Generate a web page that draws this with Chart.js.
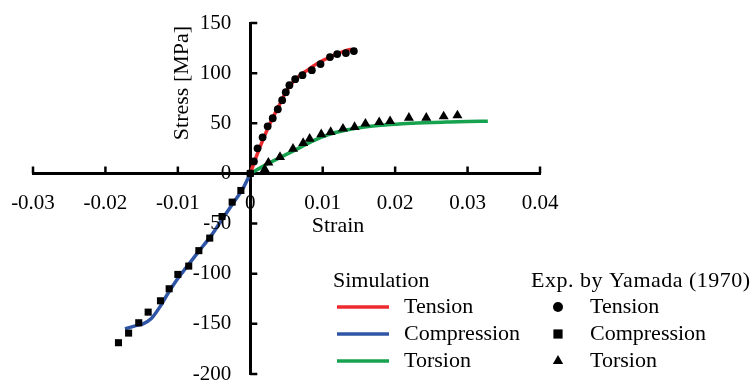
<!DOCTYPE html>
<html><head><meta charset="utf-8">
<script src="https://cdn.jsdelivr.net/npm/chart.js@4.4.0/dist/chart.umd.min.js"></script>
<style>html,body{margin:0;padding:0;background:#fff;overflow:hidden}#wrap{position:relative;width:752px;height:381px}</style>
</head><body><div id="wrap"><canvas id="c" width="752" height="381"></canvas></div>
<script>
const FONT = '"Liberation Serif", "Times New Roman", serif';

const xTickValues = [-0.03, -0.02, -0.01, 0, 0.01, 0.02, 0.03, 0.04];
const xTickLabels = ['-0.03', '-0.02', '-0.01', '0', '0.01', '0.02', '0.03', '0.04'];
const yTickValues = [-200, -150, -100, -50, 0, 50, 100, 150];
const yTickLabels = ['-200', '-150', '-100', '-50', '0', '50', '100', '150'];

// Simulation curves
const simTensionStrain = [0, 0.001, 0.002, 0.003, 0.004, 0.005, 0.006, 0.007, 0.008, 0.009, 0.010, 0.011, 0.012, 0.013, 0.014];
const simTensionStress = [0, 20, 38, 54, 68, 82, 92, 98.5, 103.5, 108.5, 112.5, 116, 119.5, 122, 124];
const simCompStrain = [0, -0.001, -0.0024, -0.004, -0.0054, -0.0072, -0.0088, -0.0102, -0.0114, -0.0125, -0.0137, -0.0148, -0.016, -0.0173];
const simCompStress = [0, -15, -30, -47, -62, -78.5, -93.4, -106.7, -120, -133.3, -145, -150, -152.2, -155];
const simTorsionStrain = [0, 0.002, 0.0038, 0.0061, 0.0085, 0.0107, 0.0131, 0.0155, 0.018, 0.021, 0.024, 0.027, 0.030, 0.0328];
const simTorsionStress = [0, 8, 14.7, 23, 32, 38.5, 43, 46, 48, 49.5, 50.5, 51.2, 51.8, 52.1];

// Experiment (Yamada 1970)
const expTensionStrain = [0, 0.0005, 0.0010, 0.0017, 0.0024, 0.0031, 0.0038, 0.0044, 0.0049, 0.0054, 0.0062, 0.0072, 0.0085, 0.0097, 0.0110, 0.0120, 0.0132, 0.0143];
const expTensionStress = [0, 12, 25, 36, 47, 55, 64, 73, 81, 88, 94, 98, 103, 109, 116, 119, 120, 122];
const expCompStrain = [0, -0.0013, -0.0025, -0.0039, -0.0056, -0.0071, -0.0085, -0.0100, -0.0112, -0.0124, -0.0141, -0.0154, -0.0168, -0.0182];
const expCompStress = [0, -17, -28.6, -43, -64.5, -77, -92.4, -100.7, -115, -127, -138.3, -148.9, -159.2, -168.8];
const expTorsionStrain = [0.0020, 0.0025, 0.0041, 0.0059, 0.0073, 0.0082, 0.0098, 0.0111, 0.0128, 0.0144, 0.0159, 0.0178, 0.0193, 0.0219, 0.0243, 0.0267, 0.0286];
const expTorsionStress = [4, 10.7, 16.3, 24.6, 30.2, 34.6, 38.9, 41.2, 44.6, 46.2, 49.6, 51.1, 52.1, 55.5, 55.5, 56.8, 57.8];

const seriesNames = ['Tension', 'Compression', 'Torsion'];
const RED = '#ee2a2f', BLUE = '#2f56a6', GREEN = '#17a24f';

function pts(xs, ys) { return xs.map((x, i) => ({x: x, y: ys[i]})); }

function expSet(label, xs, ys, style, r) {
  return {label, data: pts(xs, ys), showLine: false, pointStyle: style, pointRadius: r,
    pointBackgroundColor: '#000', pointBorderColor: '#000', pointBorderWidth: 0, order: 0};
}
function simSet(label, xs, ys, color) {
  return {label, data: pts(xs, ys), showLine: true, borderColor: color, borderWidth: 3.5,
    pointRadius: 0, cubicInterpolationMode: 'monotone', fill: false, order: 1};
}

const zeroPad = s => { s.paddingLeft = 0; s.paddingRight = 0; s.paddingTop = 0; s.paddingBottom = 0; };

const overlay = {
  id: 'overlay',
  afterDraw(chart) {
    const ctx = chart.ctx, xs = chart.scales.x, ys = chart.scales.y;
    const ax = xs.getPixelForValue(0), ay = ys.getPixelForValue(0);
    ctx.save();
    ctx.strokeStyle = '#000'; ctx.lineWidth = 2.5;
    ctx.beginPath();
    xTickValues.forEach(v => { if (v === 0) return; const p = xs.getPixelForValue(v); ctx.moveTo(p, ay); ctx.lineTo(p, ay - 7); });
    yTickValues.forEach(v => { if (v === 0) return; const p = ys.getPixelForValue(v); ctx.moveTo(ax, p); ctx.lineTo(ax + 7, p); });
    ctx.stroke();

    ctx.fillStyle = '#000';
    ctx.textBaseline = 'middle';
    // y tick labels, placed left of the y axis
    ctx.font = '21px ' + FONT;
    ctx.textAlign = 'right';
    yTickValues.forEach((v, i) => { ctx.fillText(yTickLabels[i], ax - 19, ys.getPixelForValue(v)); });

    ctx.font = '22px ' + FONT;
    ctx.textAlign = 'center';
    ctx.fillText('Strain', 338, 226);
    ctx.save(); ctx.translate(182, 83); ctx.rotate(-Math.PI / 2); ctx.fillText('Stress [MPa]', 0, 0); ctx.restore();

    ctx.textAlign = 'left';
    ctx.fillText('Simulation', 333, 281);
    ctx.save();
    ctx.letterSpacing = '0.5px';
    ctx.fillText('Exp. by Yamada (1970)', 531, 281);
    ctx.restore();
    const rows = [307, 334, 361];
    const cols = [RED, BLUE, GREEN];
    const styles = [['circle', 5], ['rect', 6.5], ['triangle', 6]];
    rows.forEach((y, i) => {
      ctx.strokeStyle = cols[i]; ctx.lineWidth = 3.3;
      ctx.beginPath(); ctx.moveTo(337, y); ctx.lineTo(389, y); ctx.stroke();
      ctx.fillStyle = '#000';
      ctx.fillText(seriesNames[i], 404, y);
      Chart.helpers.drawPoint(ctx, {pointStyle: styles[i][0], radius: styles[i][1], rotation: 0, borderWidth: 0}, 558, y);
      ctx.fillStyle = '#000';
      ctx.fillText(seriesNames[i], 590, y);
    });
    ctx.restore();
  }
};

new Chart(document.getElementById('c'), {
  type: 'scatter',
  data: {
    datasets: [
      expSet('Exp Tension', expTensionStrain, expTensionStress, 'circle', 3.9),
      expSet('Exp Compression', expCompStrain, expCompStress, 'rect', 5),
      expSet('Exp Torsion', expTorsionStrain, expTorsionStress, 'triangle', 5.8),
      simSet('Sim Tension', simTensionStrain, simTensionStress, RED),
      simSet('Sim Compression', simCompStrain, simCompStress, BLUE),
      simSet('Sim Torsion', simTorsionStrain, simTorsionStress, GREEN)
    ]
  },
  options: {
    responsive: false, animation: false, devicePixelRatio: 1,
    layout: {padding: {left: 33, right: 212, top: 23, bottom: 7}},
    plugins: {legend: {display: false}, tooltip: {enabled: false}, title: {display: false}},
    scales: {
      x: {
        type: 'linear', position: {y: 0}, min: -0.03, max: 0.04,
        afterBuildTicks: s => { s.ticks = xTickValues.map(v => ({value: v})); },
        afterFit: zeroPad,
        grid: {display: true, drawOnChartArea: false, drawTicks: false},
        border: {display: true, color: '#000', width: 3},
        ticks: {color: '#000', font: {family: FONT, size: 21}, padding: 17, maxRotation: 0, autoSkip: false,
          callback: (v, i) => xTickLabels[i]}
      },
      y: {
        type: 'linear', position: {x: 0}, min: -200, max: 150,
        afterBuildTicks: s => { s.ticks = yTickValues.map(v => ({value: v})); },
        afterFit: zeroPad,
        grid: {display: true, drawOnChartArea: false, drawTicks: false},
        border: {display: true, color: '#000', width: 3},
        ticks: {display: false}
      }
    }
  },
  plugins: [overlay]
});
</script>
</body></html>
